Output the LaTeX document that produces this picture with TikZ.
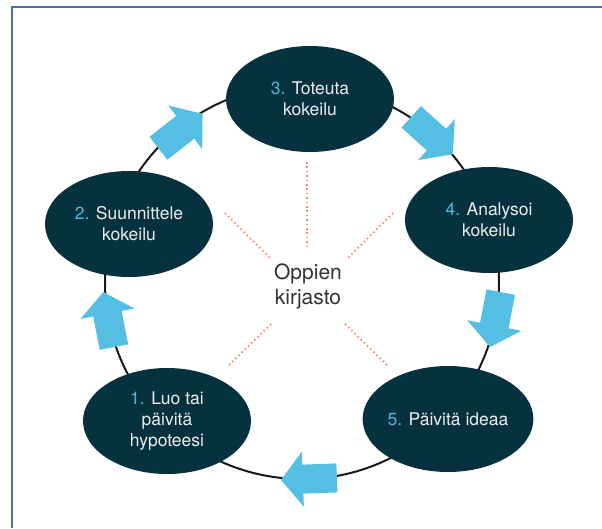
\documentclass[tikz,border=0pt]{standalone}
\usepackage{fontspec}
\setmainfont{TeX Gyre Heros}
\usetikzlibrary{shapes.geometric}
\definecolor{nodefill}{HTML}{06323F}
\definecolor{arrowblue}{HTML}{54BFE3}
\definecolor{numblue}{HTML}{4FB8DE}
\definecolor{dotorange}{HTML}{F3865E}
\definecolor{frameblue}{HTML}{4A6DB3}
\definecolor{centergray}{HTML}{333333}
\definecolor{nodetext}{HTML}{EDEDED}
\newcommand\cyclearrow[3]{%
  \fill[arrowblue, shift={(#1,#2)}, rotate=#3]
    (-28,-14.5) -- (6,-14.5) -- (6,-27.5) -- (28,0) -- (6,27.5) -- (6,14.5) -- (-28,14.5) -- cycle;}
\begin{document}
\begin{tikzpicture}[x=1pt,y=-1pt,
  stagenode/.style={ellipse, fill=nodefill, minimum width=168pt, minimum height=106pt,
    inner sep=0pt, text=nodetext, align=center, font=\fontsize{17.5}{21}\selectfont},
  ring/.style={line width=2pt, black!90},
  raydots/.style={dotorange, line width=1.6pt, dash pattern=on 1.6pt off 2.8pt}]
\useasboundingbox (0,0) rectangle (602,528);
\fill[white] (0,0) rectangle (602,528);
\draw[frameblue, line width=2pt] (12,528) -- (12,7) -- (602,7);

% ring
\coordinate (ringc) at (302,282);
\draw[ring] (ringc) circle[radius=197pt];

% block arrows along the ring (clockwise)
\cyclearrow{108.6}{319.6}{101}
\cyclearrow{180.5}{131}{38}
\cyclearrow{432}{135.6}{-42}
\cyclearrow{495.4}{319.6}{-101}
\cyclearrow{308.9}{478.9}{-178}

% stages
\node[stagenode] (n3) at (310,99)  {\textcolor{numblue}{3.} Toteuta\\kokeilu};
\node[stagenode] (n2) at (129,224) {\textcolor{numblue}{2.} Suunnittele\\kokeilu};
\node[stagenode] (n4) at (489,220) {\textcolor{numblue}{4.} Analysoi\\kokeilu};
\node[stagenode] (n1) at (167,421) {\textcolor{numblue}{1.} Luo tai\\päivitä\\hypoteesi};
\node[stagenode] (n5) at (448,419) {\textcolor{numblue}{5.} Päivitä ideaa};

% centre
\node[font=\fontsize{21}{25}\selectfont, text=centergray, align=center] (lib) at (308,286) {Oppien\\kirjasto};

% dotted rays
\coordinate (r3a) at (307,162); \coordinate (r3b) at (307,250);
\coordinate (r2a) at (225,213); \coordinate (r2b) at (270,258);
\coordinate (r4a) at (393,213); \coordinate (r4b) at (348,258);
\coordinate (r1a) at (229,365); \coordinate (r1b) at (273,322);
\coordinate (r5a) at (387,365); \coordinate (r5b) at (343,322);
\draw[raydots] (r3a) -- (r3b);
\draw[raydots] (r2a) -- (r2b);
\draw[raydots] (r4a) -- (r4b);
\draw[raydots] (r1a) -- (r1b);
\draw[raydots] (r5a) -- (r5b);
\end{tikzpicture}
\end{document}
